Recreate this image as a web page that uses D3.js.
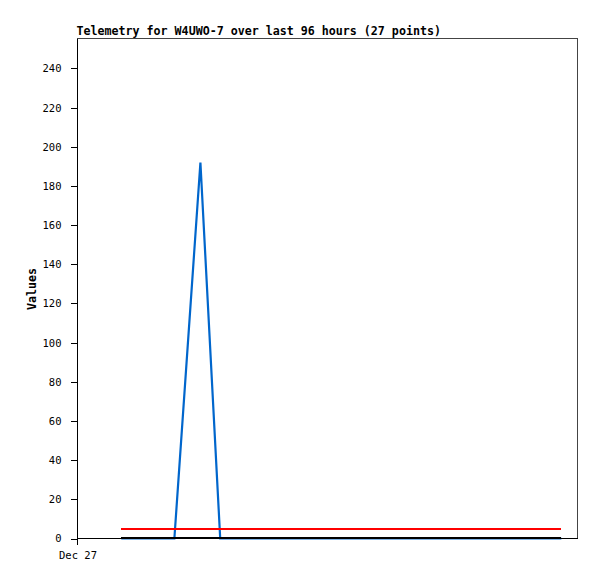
<!DOCTYPE html>
<html><head><meta charset="utf-8">
<script src="https://cdn.jsdelivr.net/npm/d3@7"></script>
<style>body{margin:0;background:#fff}svg{display:block}</style>
</head><body>
<svg id="c" width="597" height="579"></svg>
<script>
// hours since Dec 27 00:00 for each telemetry point
const hours = [8.4, 11.9, 15.3, 18.6, 23.6, 27.4, 30.6, 33.8, 37.0, 40.1, 43.3, 46.5, 49.6, 52.8,
  56.0, 59.1, 62.3, 65.4, 68.6, 71.8, 74.9, 78.1, 81.3, 84.4, 87.6, 90.3, 92.9];
const blueValues = [0,0,0,0,192,0,0,0,0,0,0,0,0,0,0,0,0,0,0,0,0,0,0,0,0,0,0];
const redValues = hours.map(() => 5);
const blackValues = hours.map(() => 0);
const yTicks = [0,20,40,60,80,100,120,140,160,180,200,220,240];
const xTickLabels = ["Dec 27"];
const title = "Telemetry for W4UWO-7 over last 96 hours (27 points)";

const start = new Date(2023, 11, 27, 0, 0);
const times = hours.map(h => new Date(start.getTime() + h * 3600e3));
const L = 77.5, R = 577.5, T = 38.5, B = 538.5;
const svg = d3.select("#c");
const x = d3.scaleTime().domain([start, new Date(start.getTime() + 96 * 3600e3)]).range([L, R]);
const y = d3.scaleLinear().domain([0, 255.3]).range([B, T]);

svg.append("rect").attr("x", L).attr("y", T).attr("width", R - L).attr("height", B - T)
  .attr("fill", "none").attr("stroke", "#444").attr("stroke-width", 1).attr("shape-rendering", "crispEdges");

const line = vals => d3.line().x((d, i) => x(times[i])).y(d => y(d))(vals);
const g = svg.append("g");
g.append("path").attr("d", line(blueValues)).attr("fill", "none").attr("stroke", "#0066cc").attr("stroke-width", 2.2);
g.append("path").attr("d", line(blackValues)).attr("fill", "none").attr("stroke", "#000").attr("stroke-width", 2).attr("transform","translate(0,-1)").attr("shape-rendering", "crispEdges");
g.append("path").attr("d", line(redValues)).attr("fill", "none").attr("stroke", "#ff0000").attr("stroke-width", 2).attr("shape-rendering", "crispEdges");

// y axis
const ya = svg.append("g").attr("transform", `translate(${L},0)`)
  .call(d3.axisLeft(y).tickValues(yTicks).tickSize(7).tickPadding(9).tickSizeOuter(0));
ya.select(".domain").remove();
ya.selectAll("line").attr("stroke", "#000").attr("shape-rendering", "crispEdges");
ya.selectAll("text").attr("font-family", "DejaVu Sans Mono").attr("font-size", "10.5px").attr("fill", "#000");
svg.append("line").attr("x1", L).attr("x2", L).attr("y1", T).attr("y2", B + 6).attr("stroke", "#000").attr("shape-rendering", "crispEdges");
svg.append("line").attr("x1", L).attr("x2", R).attr("y1", B).attr("y2", B).attr("stroke", "#000").attr("shape-rendering", "crispEdges");

// x axis label
const xa = svg.append("g").attr("transform", `translate(0,${B})`)
  .call(d3.axisBottom(x).tickValues([start]).tickFormat((d, i) => xTickLabels[i]).tickSize(0).tickPadding(13));
xa.select(".domain").remove();
xa.selectAll("text").attr("font-family", "DejaVu Sans Mono").attr("font-size", "10.5px").attr("fill", "#000");

svg.append("text").attr("x", L - 1).attr("y", 35).text(title)
  .attr("font-family", "DejaVu Sans Mono").attr("font-weight", "bold").attr("font-size", "11.65px");
svg.append("text").attr("transform", "translate(36,289) rotate(-90)").attr("text-anchor", "middle").text("Values")
  .attr("font-family", "DejaVu Sans Mono").attr("font-weight", "bold").attr("font-size", "11.65px");
</script>
</body></html>
